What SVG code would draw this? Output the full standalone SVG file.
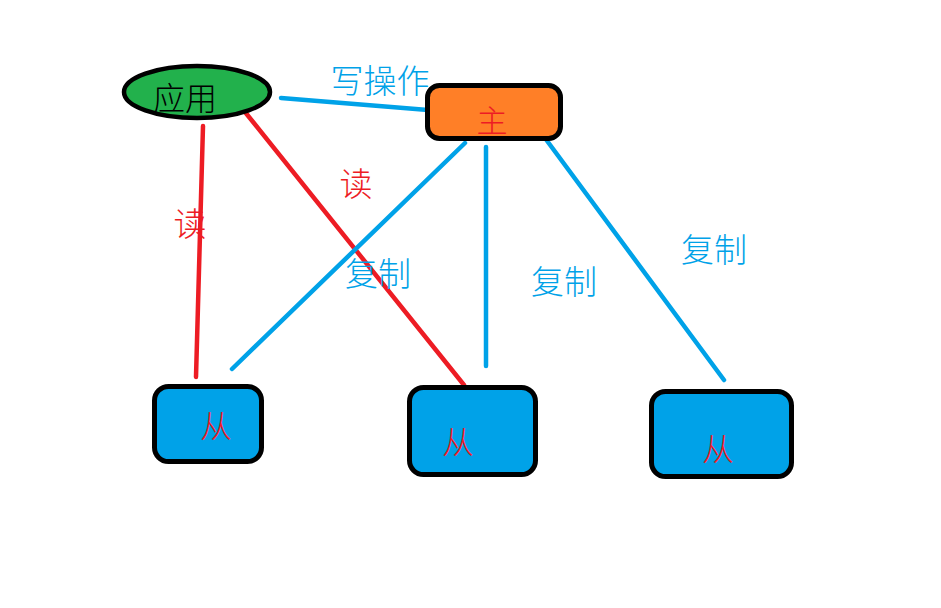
<svg xmlns="http://www.w3.org/2000/svg" width="941" height="608" viewBox="0 0 941 608">
<style>
.lbl{font-family:"Noto Sans CJK SC","Microsoft YaHei",sans-serif;font-weight:300;text-anchor:middle;dominant-baseline:central;}
.blue{fill:#00a2e8;}
.red{fill:#ed1c24;}
.box{fill:#00a2e8;stroke:#000;stroke-width:5;}
.bl{stroke:#00a2e8;stroke-width:4.5;stroke-linecap:round;fill:none;}
.rl{stroke:#ed1c24;stroke-width:4.5;stroke-linecap:round;fill:none;}
</style>
<rect width="941" height="608" fill="#fff"/>
<g id="connectors">
<line class="bl" x1="281" y1="98" x2="428" y2="110"/>
<line class="rl" x1="203" y1="126" x2="196" y2="377"/>
<line class="rl" x1="245" y1="112" x2="464" y2="385"/>
<line class="bl" x1="465" y1="143" x2="232" y2="369"/>
<line class="bl" x1="486" y1="147" x2="486" y2="366"/>
<line class="bl" x1="542" y1="134" x2="724" y2="380"/>
</g>
<g id="labels">
<text class="lbl blue" x="380" y="79" font-size="33">写操作</text>
<text class="lbl red" x="190" y="222" font-size="33">读</text>
<text class="lbl red" x="356" y="182" font-size="33">读</text>
<text class="lbl blue" x="378" y="272" font-size="33">复制</text>
<text class="lbl blue" x="564" y="280" font-size="33">复制</text>
<text class="lbl blue" x="714" y="248" font-size="33">复制</text>
</g>
<g id="app">
<ellipse cx="197" cy="92" rx="73" ry="26" fill="#22b14c" stroke="#000" stroke-width="4.5"/>
<text class="lbl" x="185" y="96" font-size="32" fill="#000">应用</text>
</g>
<g id="master">
<rect x="427.5" y="85.5" width="133" height="53" rx="12" fill="#ff7f27" stroke="#000" stroke-width="5"/>
<text class="lbl red" x="492" y="118" font-size="31">主</text>
</g>
<g id="slave1">
<rect class="box" x="154.5" y="386.5" width="107" height="75" rx="14"/>
<text class="lbl red" x="216" y="424" font-size="32">从</text>
</g>
<g id="slave2">
<rect class="box" x="409.5" y="387.5" width="126" height="87" rx="14"/>
<text class="lbl red" x="458" y="440" font-size="32">从</text>
</g>
<g id="slave3">
<rect class="box" x="651.5" y="391.5" width="140" height="85" rx="14"/>
<text class="lbl red" x="718" y="447" font-size="32">从</text>
</g>
</svg>
